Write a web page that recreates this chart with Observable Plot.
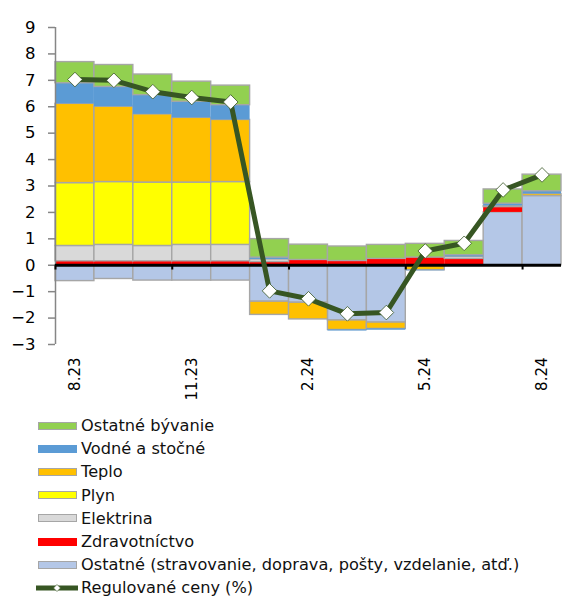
<!DOCTYPE html>
<html><head><meta charset="utf-8">
<script src="https://cdn.jsdelivr.net/npm/d3@7"></script>
<script src="https://cdn.jsdelivr.net/npm/@observablehq/plot@0.6"></script>
<style>
body{margin:0;background:#fff;font-family:"DejaVu Sans",Verdana,sans-serif;}
#legend{padding-top:14px;}
.row{height:23.2px;display:flex;align-items:center;font-size:16.2px;color:#111;white-space:nowrap;}
.sw{box-sizing:border-box;width:39px;height:8px;margin-left:38px;margin-right:4px;flex:none;}
.lsw{position:relative;width:42px;height:14px;margin-left:36px;margin-right:3px;flex:none;}
</style></head><body><div id="chart"></div><div id="legend"></div>
<script>
const months = ["8.23","9.23","10.23","11.23","12.23","1.24","2.24","3.24","4.24","5.24","6.24","7.24","8.24"];
const tickMonths = ["8.23","11.23","2.24","5.24","8.24"];
const yTicks = [-3,-2,-1,0,1,2,3,4,5,6,7,8,9];

// contributions (p.b.), stacking order bottom -> top
const ostatne = [-0.60,-0.52,-0.58,-0.58,-0.58,-1.38,-1.42,-2.09,-2.17,0,0,2.00,2.62];
const zdravotnictvo = [0.15,0.15,0.15,0.15,0.15,0.12,0.20,0.16,0.24,0.29,0.24,0.20,0];
const elektrina = [0.58,0.62,0.58,0.62,0.62,0.10,0,0,0,0,0.08,0.05,0];
const plyn = [2.38,2.38,2.40,2.36,2.38,0,0,0,0,0,0,0,0];
const teplo = [3.00,2.85,2.58,2.45,2.35,-0.50,-0.63,-0.36,-0.24,-0.19,0,0,0.08];
const vodne = [0.78,0.75,0.73,0.61,0.56,0.07,0,-0.04,-0.05,-0.02,0.06,0.08,0.10];
const byvanie = [0.80,0.83,0.78,0.76,0.74,0.70,0.58,0.55,0.53,0.52,0.54,0.54,0.63];
const regulovane = [7.03,7.00,6.57,6.35,6.18,-0.97,-1.27,-1.84,-1.79,0.54,0.83,2.85,3.42];

const seriesNames = ["Ostatné (stravovanie, doprava, pošty, vzdelanie, atď.)","Zdravotníctvo","Elektrina","Plyn","Teplo","Vodné a stočné","Ostatné bývanie"];
const seriesValues = [ostatne, zdravotnictvo, elektrina, plyn, teplo, vodne, byvanie];
const lineName = "Regulované ceny (%)";

// styles
const seriesColors = ["#b4c7e7","#ff0000","#d9d9d9","#ffff00","#ffc000","#5b9bd5","#92d050"];
const seriesBorder = [1,0,1,1,1,0,1];
const lineColor = "#375623";

const rows = [];
seriesValues.forEach((vals, s) => vals.forEach((v, i) => {
  if (v !== 0) rows.push({month: months[i], series: seriesNames[s], value: v, border: seriesBorder[s]});
}));
const lineData = months.map((m, i) => ({month: m, value: regulovane[i]}));

const W = 571, H = 400, ML = 55, MR = 10, MT = 27, MB = 56;
const bw = (W - ML - MR) / months.length;

const chart = Plot.plot({
  width: W, height: H,
  marginLeft: ML, marginRight: MR, marginTop: MT, marginBottom: MB,
  style: {fontFamily: '"DejaVu Sans", Verdana, sans-serif', color: "#000", background: "#fff"},
  x: {type: "band", domain: months, padding: 0, round: false, axis: null},
  y: {domain: [-3, 9], axis: null},
  color: {domain: seriesNames, range: seriesColors},
  opacity: {type: "identity"},
  marks: [
    Plot.barY(rows, {x: "month", y: "value", fill: "series", stroke: "#a6a6a6", strokeOpacity: "border", strokeWidth: 1.4, inset: 0}),
    Plot.ruleX([months[0]], {x: d => d, dx: -bw / 2, y1: -3, y2: 9, stroke: "#868686", strokeWidth: 1.5}),
    Plot.axisY({ticks: yTicks, label: null, tickSize: 7, tickPadding: 13, fontSize: 16.5, stroke: "#868686", strokeWidth: 1.5, fill: "#000"}),
    Plot.ruleY([0], {stroke: "#000", strokeWidth: 3}),
    Plot.ruleX(tickMonths, {x: d => d, dx: -bw / 2, y1: 0, y2: -0.18, stroke: "#000", strokeWidth: 2}),
    Plot.axisX({ticks: tickMonths, label: null, tickRotate: -90, tickSize: 0, tickPadding: 13, fontSize: 15, fill: "#000"}),
    Plot.line(lineData, {x: "month", y: "value", stroke: lineColor, strokeWidth: 5}),
    Plot.dot(lineData, {x: "month", y: "value", symbol: "diamond2", r: 6.6, fill: "#fff", stroke: lineColor, strokeWidth: 0.8})
  ]
});
document.getElementById("chart").appendChild(chart);

const legend = document.getElementById("legend");
const order = [6,5,4,3,2,1,0];
order.forEach(s => {
  const row = document.createElement("div");
  row.className = "row";
  const sw = document.createElement("div");
  sw.className = "sw";
  sw.style.background = seriesColors[s];
  if (seriesBorder[s]) sw.style.border = "1.5px solid #a6a6a6";
  row.appendChild(sw);
  const t = document.createElement("span");
  t.textContent = seriesNames[s];
  row.appendChild(t);
  legend.appendChild(row);
});
const lrow = document.createElement("div");
lrow.className = "row";
lrow.innerHTML = `<svg class="lsw" width="42" height="14"><line x1="0" x2="42" y1="7" y2="7" stroke="${lineColor}" stroke-width="5"/><path d="M21,3.5L24.5,7L21,10.5L17.5,7Z" fill="#fff" stroke="${lineColor}" stroke-width="0.6"/></svg>`;
const lt = document.createElement("span");
lt.textContent = lineName;
lrow.appendChild(lt);
legend.appendChild(lrow);
</script></body></html>
